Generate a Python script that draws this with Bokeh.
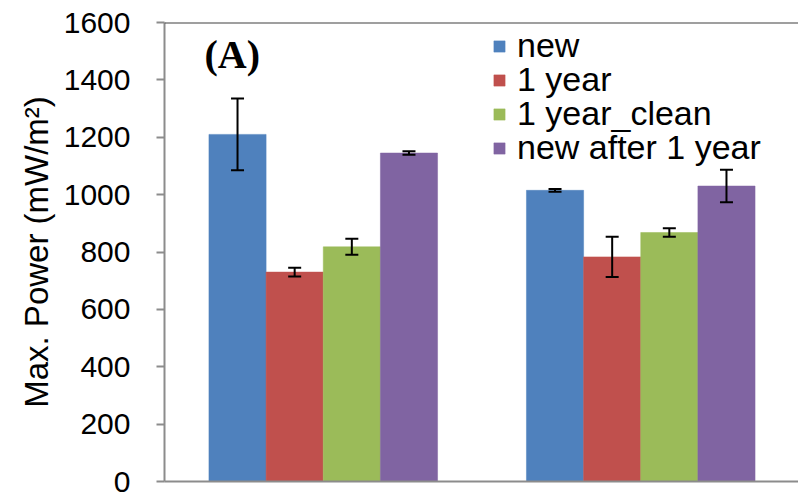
from bokeh.plotting import figure
from bokeh.models import (ColumnDataSource, Range1d, Legend, LegendItem, Whisker,
                          TeeHead, Span, Label, FixedTicker)
from bokeh.embed import file_html
from bokeh.resources import INLINE

# ---- data ----
categories = ["group 1", "group 2"]
series = ["new", "1 year", "1 year_clean", "new after 1 year"]
colors = ["#4F81BD", "#C0504D", "#9BBB59", "#8064A2"]
values = {
    "new": [1210, 1015],
    "1 year": [730, 783],
    "1 year_clean": [818, 868],
    "new after 1 year": [1145, 1030],
}
errors = {
    "new": [125, 5],
    "1 year": [15, 70],
    "1 year_clean": [28, 15],
    "new after 1 year": [6, 57],
}
y_ticks = [0, 200, 400, 600, 800, 1000, 1200, 1400, 1600]

W, H = 798, 500
p = figure(width=W, height=H, output_backend="svg", toolbar_location=None,
           x_range=Range1d(0, 634 / 317.5), y_range=Range1d(0, 1600),
           min_border_left=164, min_border_right=0, min_border_top=22,
           min_border_bottom=19)
p.outline_line_color = None
p.xgrid.visible = False
p.ygrid.visible = False

bar_w = 0.18
offsets = [-0.27, -0.09, 0.09, 0.27]
items = []
for s, c, off in zip(series, colors, offsets):
    xs = [i + 0.5 + off for i in range(len(categories))]
    v = values[s]
    e = errors[s]
    src = ColumnDataSource(dict(x=xs, top=v,
                                upper=[a + b for a, b in zip(v, e)],
                                lower=[a - b for a, b in zip(v, e)]))
    r = p.vbar(x="x", top="top", width=bar_w, source=src, fill_color=c,
               line_color=c, line_width=0.5)
    items.append(LegendItem(label=s, renderers=[r]))
    w = Whisker(source=src, base="x", upper="upper", lower="lower",
                line_color="black", line_width=2, level="overlay",
                upper_head=TeeHead(size=13, line_color="black", line_width=2),
                lower_head=TeeHead(size=13, line_color="black", line_width=2))
    p.add_layout(w)

# axes
p.yaxis.ticker = FixedTicker(ticks=y_ticks)
p.yaxis.minor_tick_line_color = None
p.yaxis.major_tick_out = 8
p.yaxis.major_tick_in = 0
p.yaxis.major_tick_line_color = "#8c8c8c"
p.yaxis.major_tick_line_width = 2
p.yaxis.axis_line_color = "#8c8c8c"
p.yaxis.axis_line_width = 2
p.yaxis.major_label_text_font = "Liberation Sans"
p.yaxis.major_label_text_font_size = "30px"
p.yaxis.major_label_text_color = "black"
p.yaxis.major_label_standoff = 26
p.yaxis.axis_label = "Max. Power (mW/m²)"
p.yaxis.axis_label_text_font = "Liberation Sans"
p.yaxis.axis_label_text_font_size = "33px"
p.yaxis.axis_label_text_font_style = "normal"
p.yaxis.axis_label_text_color = "black"
p.yaxis.axis_label_standoff = 6

p.xaxis.ticker = FixedTicker(ticks=[])
p.xaxis.major_label_text_font_size = "0px"
p.xaxis.major_tick_line_color = None
p.xaxis.minor_tick_line_color = None
p.xaxis.axis_line_color = "#8c8c8c"
p.xaxis.axis_line_width = 2

p.add_layout(Span(location=1600, dimension="width", line_color="#404040",
                  line_width=2))

p.add_layout(Label(x=40, y=450, x_units="screen", y_units="screen", text="(A)",
                   text_font="Liberation Serif", text_font_style="bold",
                   text_font_size="40px", text_color="black",
                   text_baseline="top"))

# one legend box per entry so that the row pitch matches the reference
legend_y = [416, 382, 348, 314]
for item, ly in zip(items, legend_y):
    lg = Legend(items=[item], location=(328, ly), orientation="vertical",
                glyph_width=14, glyph_height=14, label_standoff=11,
                label_text_font="Liberation Sans", label_text_font_size="34px",
                label_text_color="black", spacing=0, padding=0, margin=0,
                border_line_color=None, background_fill_alpha=0)
    p.add_layout(lg)

open("out.html", "w").write(file_html(p, INLINE))
